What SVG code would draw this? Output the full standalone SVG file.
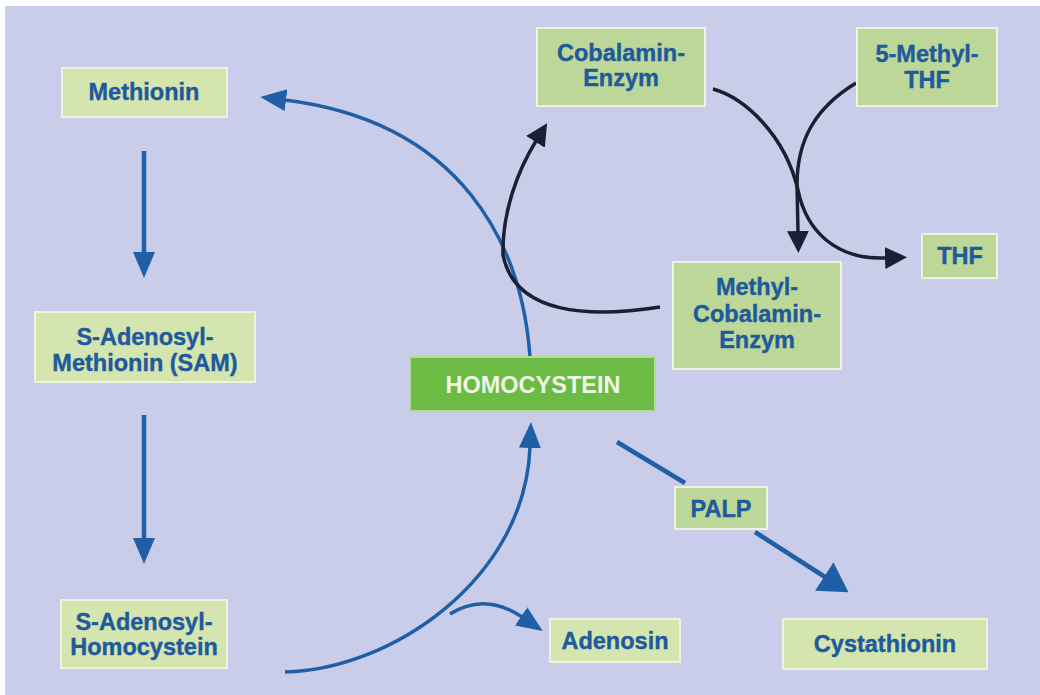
<svg xmlns="http://www.w3.org/2000/svg" width="1040" height="695" viewBox="0 0 1040 695">
<style>
.bg{fill:#c9cde9}
.box{fill:#d4e5b0;stroke:#edf3dc;stroke-width:2}
.box2{fill:#bcd797;stroke:#edf3dc;stroke-width:2}
.hbox{fill:#6cbb45;stroke:#b4db96;stroke-width:2}
.t{font-family:"Liberation Sans",Arial,Helvetica,sans-serif;font-weight:bold;font-size:23.5px;fill:#1f5a9c;stroke:#1f5a9c;stroke-width:0.4;text-anchor:middle}
.th{font-family:"Liberation Sans",Arial,Helvetica,sans-serif;font-weight:bold;font-size:23.5px;fill:#eef6e4;text-anchor:middle}
.blue{fill:none;stroke:#1f5fa8;stroke-width:4.5}
.blueThin{fill:none;stroke:#1f5fa8;stroke-width:3.5}
.black{fill:none;stroke:#1b1f33;stroke-width:3.5}
</style>
<defs>
<marker id="hb" markerUnits="userSpaceOnUse" markerWidth="28" markerHeight="24" refX="1" refY="11" orient="auto">
<path d="M0,0 L26,11 L0,22 z" fill="#1f5fa8"/>
</marker>
<marker id="hbBig" markerUnits="userSpaceOnUse" markerWidth="32" markerHeight="36" refX="1" refY="17" orient="auto">
<path d="M0,0 L29,17 L0,34 z" fill="#1f5fa8"/>
</marker>
<marker id="hk" markerUnits="userSpaceOnUse" markerWidth="24" markerHeight="24" refX="1" refY="11" orient="auto">
<path d="M0,0 L22,11 L0,22 z" fill="#1b1f33"/>
</marker>
</defs>
<rect x="0" y="0" width="1040" height="695" fill="#ffffff"/>
<rect class="bg" x="5" y="6" width="1035" height="689"/>

<g id="connectors">
<path class="blue" d="M144,151 L144,253" marker-end="url(#hb)"/>
<path class="blue" d="M144,415 L144,539" marker-end="url(#hb)"/>
<path class="blueThin" d="M530,357 C 522,245 462,122 285,100" marker-end="url(#hb)"/>
<path class="blueThin" d="M285,672 C 390,670 525,580 530,447" marker-end="url(#hb)"/>
<path class="blueThin" d="M450,614 Q 485,592 522,617" marker-end="url(#hb)"/>
<path class="blue" d="M617,442 L685,483"/>
<path class="blue" d="M755,532 L825,577" marker-end="url(#hbBig)"/>
<path class="black" d="M660,307 C 590,318 515,315 503,255 C 502,212 518,170 536,141" marker-end="url(#hk)"/>
<path class="black" d="M713,89 C 745,98 785,135 798,190 C 806,230 835,260 886,258" marker-end="url(#hk)"/>
<path class="black" d="M856,83 C 815,108 797,140 797,185 L 798,232" marker-end="url(#hk)"/>
</g>

<g id="methionin">
<rect class="box" x="62" y="68" width="165" height="49"/>
<text class="t" x="144" y="100">Methionin</text>
</g>
<g id="sam">
<rect class="box" x="35" y="312" width="220" height="70"/>
<text class="t" x="145" y="345">S-Adenosyl-</text>
<text class="t" x="145" y="371">Methionin (SAM)</text>
</g>
<g id="sah">
<rect class="box" x="61" y="600" width="166" height="68"/>
<text class="t" x="144" y="630">S-Adenosyl-</text>
<text class="t" x="144" y="655">Homocystein</text>
</g>
<g id="homocystein">
<rect class="hbox" x="410" y="357" width="245" height="54"/>
<text class="th" x="533" y="393">HOMOCYSTEIN</text>
</g>
<g id="cobalamin">
<rect class="box2" x="537" y="28" width="168" height="78"/>
<text class="t" x="621" y="61">Cobalamin-</text>
<text class="t" x="621" y="86">Enzym</text>
</g>
<g id="methylthf">
<rect class="box2" x="857" y="28" width="140" height="78"/>
<text class="t" x="927" y="62">5-Methyl-</text>
<text class="t" x="927" y="88">THF</text>
</g>
<g id="thf">
<rect class="box2" x="922" y="234" width="75" height="44"/>
<text class="t" x="960" y="264">THF</text>
</g>
<g id="methylcobalamin">
<rect class="box2" x="673" y="262" width="168" height="107"/>
<text class="t" x="757" y="295">Methyl-</text>
<text class="t" x="757" y="322">Cobalamin-</text>
<text class="t" x="757" y="348">Enzym</text>
</g>
<g id="adenosin">
<rect class="box" x="550" y="619" width="130" height="43"/>
<text class="t" x="615" y="649">Adenosin</text>
</g>
<g id="palp">
<rect class="box2" x="675" y="487" width="92" height="42"/>
<text class="t" x="721" y="517">PALP</text>
</g>
<g id="cystathionin">
<rect class="box" x="783" y="619" width="204" height="50"/>
<text class="t" x="885" y="652">Cystathionin</text>
</g>
</svg>
